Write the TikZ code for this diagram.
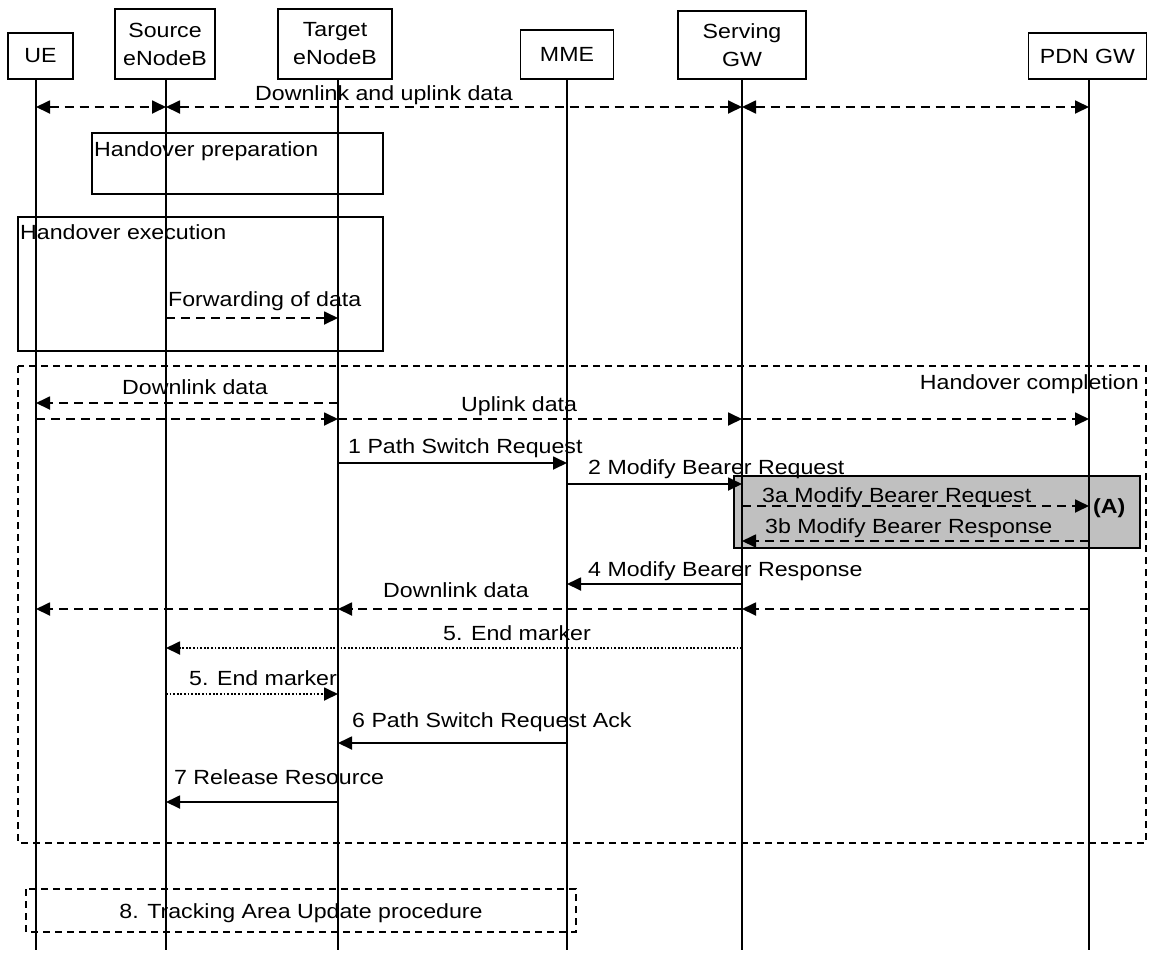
\documentclass[tikz,border=0pt]{standalone}
\usepackage{fontspec}
\setmainfont{Liberation Sans}[FakeStretch=1.13]
\usetikzlibrary{arrows.meta}
\definecolor{boxgrey}{RGB}{192,192,192}
\begin{document}
\begin{tikzpicture}[x=1pt,y=-1pt,
  every node/.style={font=\fontsize{20.5}{28}\selectfont},
  hdr/.style={draw,line width=1.3pt,align=center,inner sep=0pt},
  lbl/.style={anchor=base west,inner sep=0pt},
  life/.style={line width=1.3pt},
  msg/.style={line width=1.8pt,-{Triangle[length=14pt,width=13pt]}},
  dmsg/.style={msg,dash pattern=on 9pt off 6pt},
  dotmsg/.style={line width=1.8pt,dash pattern=on 1.8pt off 1.8pt,-{Triangle[length=14pt,width=13pt]}},
  bothd/.style={line width=1.8pt,dash pattern=on 9pt off 6pt,{Triangle[length=14pt,width=13pt]}-{Triangle[length=14pt,width=13pt]}},
  grp/.style={draw,line width=1.3pt},
  dgrp/.style={draw,line width=1.3pt,dash pattern=on 7pt off 5pt}]
\useasboundingbox (0,0) rectangle (1149,954);

% header boxes
\node[hdr,minimum width=65pt,minimum height=46pt] (ue) at (40.5,56) {UE};
\node[hdr,minimum width=100pt,minimum height=70pt] (src) at (165,44) {Source\\eNodeB};
\node[hdr,minimum width=114pt,minimum height=70pt] (tgt) at (335,44) {Target\\eNodeB};
\node[hdr,minimum width=93pt,minimum height=49pt] (mme) at (567,54.5) {MME};
\node[hdr,minimum width=128pt,minimum height=68pt] (sgw) at (742,45) {Serving\\GW};
\node[hdr,minimum width=118pt,minimum height=46pt] (pgw) at (1087.5,56) {PDN GW};

% lifeline ends
\coordinate (lUE) at (36,79);   \coordinate (bUE) at (36,950);
\coordinate (lSRC) at (166,79); \coordinate (bSRC) at (166,950);
\coordinate (lTGT) at (338,79); \coordinate (bTGT) at (338,950);
\coordinate (lMME) at (567,79); \coordinate (bMME) at (567,950);
\coordinate (lSGW) at (742,79); \coordinate (bSGW) at (742,950);
\coordinate (lPGW) at (1089,79);\coordinate (bPGW) at (1089,950);

% grey box (A)
\draw[fill=boxgrey,line width=1.2pt] (734,476) rectangle (1140,548);

% lifelines
\draw[life] (lUE) -- (bUE);
\draw[life] (lSRC) -- (bSRC);
\draw[life] (lTGT) -- (bTGT);
\draw[life] (lMME) -- (bMME);
\draw[life] (lSGW) -- (bSGW);
\draw[life] (lPGW) -- (bPGW);

% group boxes
\draw[grp] (92,133) rectangle (383,194);
\draw[grp] (18,217) rectangle (383,351);
\draw[dgrp] (18,366) rectangle (1146,843);
\draw[dgrp] (26,889) rectangle (576,932);

% top data
\draw[bothd] (lUE |- 0,107) -- (lSRC |- 0,107);
\draw[bothd] (lSRC |- 0,107) -- (lSGW |- 0,107);
\draw[bothd] (lSGW |- 0,107) -- (lPGW |- 0,107);
\node[lbl] (t0) at (255,100) {Downlink and uplink data};

\node[lbl] (t1) at (94,156) {Handover preparation};
\node[lbl] (t2) at (20,239) {Handover execution};
\node[lbl] (t3) at (168,306) {Forwarding of data};
\draw[dmsg] (lSRC |- 0,318) -- (lTGT |- 0,318);

\node[anchor=base east,inner sep=0pt] (t4) at (1139,389) {Handover completion};

\node[lbl] (t5) at (122,394) {Downlink data};
\draw[dmsg] (lTGT |- 0,403) -- (lUE |- 0,403);
\node[lbl] (t6) at (461,411) {Uplink data};
\draw[dmsg] (lUE |- 0,419) -- (lTGT |- 0,419);
\draw[dmsg] (lTGT |- 0,419) -- (lSGW |- 0,419);
\draw[dmsg] (lSGW |- 0,419) -- (lPGW |- 0,419);

\node[lbl] (t7) at (348,453) {1 Path Switch Request};
\draw[msg] (lTGT |- 0,463) -- (lMME |- 0,463);
\node[lbl] (t8) at (588,474) {2 Modify Bearer Request};
\draw[msg] (lMME |- 0,484) -- (lSGW |- 0,484);

\node[lbl] (t9) at (762,502) {3a Modify Bearer Request};
\draw[dmsg] (lSGW |- 0,506) -- (lPGW |- 0,506);
\node[lbl] (tA) at (1093,513) {\textbf{(A)}};
\node[lbl] (t10) at (765,533) {3b Modify Bearer Response};
\draw[dmsg] (lPGW |- 0,541) -- (lSGW |- 0,541);

\node[lbl] (t11) at (588,576) {4 Modify Bearer Response};
\draw[msg] (lSGW |- 0,584) -- (lMME |- 0,584);

\node[lbl] (t12) at (383,597) {Downlink data};
\draw[dmsg] (lPGW |- 0,609) -- (lSGW |- 0,609);
\draw[dmsg] (lSGW |- 0,609) -- (lTGT |- 0,609);
\draw[dmsg] (lTGT |- 0,609) -- (lUE |- 0,609);

\node[lbl] (t13) at (443,640) {5. End marker};
\draw[dotmsg] (lSGW |- 0,648) -- (lSRC |- 0,648);
\node[lbl] (t14) at (189,685) {5. End marker};
\draw[dotmsg] (lSRC |- 0,694) -- (lTGT |- 0,694);

\node[lbl] (t15) at (352,727) {6 Path Switch Request Ack};
\draw[msg] (lMME |- 0,743) -- (lTGT |- 0,743);
\node[lbl] (t16) at (174,784) {7 Release Resource};
\draw[msg] (lTGT |- 0,802) -- (lSRC |- 0,802);

\node[anchor=base,inner sep=0pt] (t17) at (301,918) {8. Tracking Area Update procedure};
\end{tikzpicture}
\end{document}
